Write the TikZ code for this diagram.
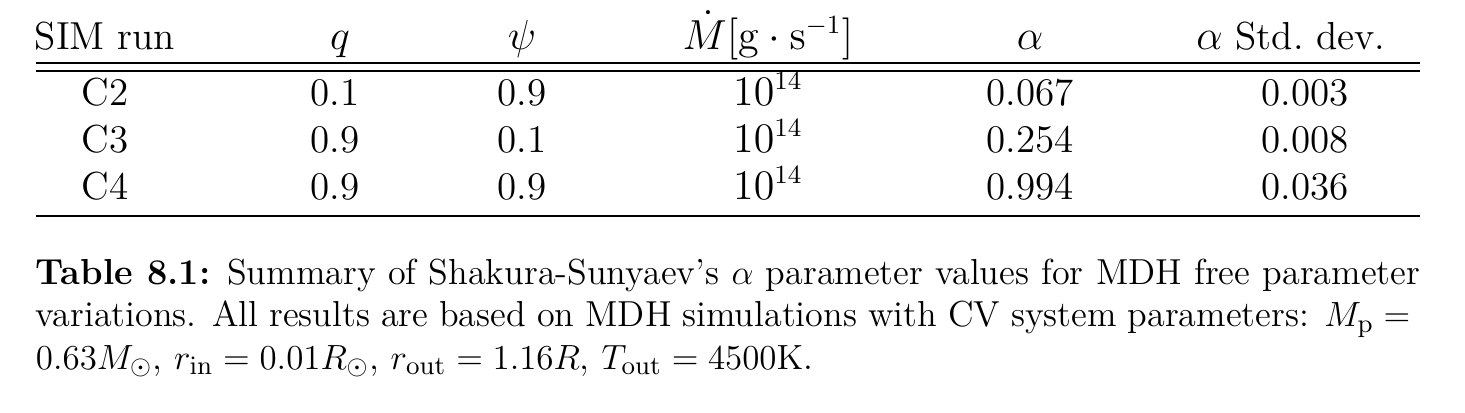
\documentclass[tikz,border=0pt]{standalone}
\begin{document}
\begin{tikzpicture}[x=0.3429pt,y=-0.3429pt,
  every node/.style={inner sep=0pt, outer sep=0pt},
  cell/.style={anchor=base, font=\fontsize{13.4}{16}\selectfont},
  captext/.style={font=\fontsize{12.4}{14.5}\selectfont},
  tabrule/.style={line width=0.5pt}]
\useasboundingbox (0,0) rectangle (1465,412);
% header
\node[cell] (h1) at (105,49) {SIM run};
\node[cell] (h2) at (340,49) {$q$};
\node[cell] (h3) at (522,49) {$\psi$};
\node[cell] (h4) at (768,49) {$\dot M[\mathrm{g}\cdot\mathrm{s}^{-1}]$};
\node[cell] (h5) at (1030,49) {$\alpha$};
\node[cell] (h6) at (1291,49) {$\alpha$ Std.\ dev.};
% rules
\coordinate (r1l) at (36,63);  \coordinate (r1r) at (1420,63);
\coordinate (r2l) at (36,71);  \coordinate (r2r) at (1420,71);
\coordinate (r3l) at (36,216); \coordinate (r3r) at (1420,216);
\draw[tabrule] (r1l) -- (r1r);
\draw[tabrule] (r2l) -- (r2r);
\draw[tabrule] (r3l) -- (r3r);
% rows
\node[cell] (a1) at (105,105) {C2};
\node[cell] (a2) at (335,105) {0.1};
\node[cell] (a3) at (522,105) {0.9};
\node[cell] (a4) at (768,105) {$10^{14}$};
\node[cell] (a5) at (1030,105) {0.067};
\node[cell] (a6) at (1305,105) {0.003};
\node[cell] (b1) at (105,152) {C3};
\node[cell] (b2) at (335,152) {0.9};
\node[cell] (b3) at (522,152) {0.1};
\node[cell] (b4) at (768,152) {$10^{14}$};
\node[cell] (b5) at (1030,152) {0.254};
\node[cell] (b6) at (1305,152) {0.008};
\node[cell] (c1) at (105,199) {C4};
\node[cell] (c2) at (335,199) {0.9};
\node[cell] (c3) at (522,199) {0.9};
\node[cell] (c4) at (768,199) {$10^{14}$};
\node[cell] (c5) at (1030,199) {0.994};
\node[cell] (c6) at (1305,199) {0.036};
% caption
\node[captext, anchor=north west, text width=474.6pt, align=justify] (cap) at (36,259)
 {\textbf{Table 8.1:} Summary of Shakura-Sunyaev's $\alpha$ parameter values for MDH free parameter\linebreak
 variations. All results are based on MDH simulations with CV system parameters: $M_{\mathrm{p}}={}$\linebreak
 $0.63M_{\odot}$, $r_{\mathrm{in}}=0.01R_{\odot}$, $r_{\mathrm{out}}=1.16R$, $T_{\mathrm{out}}=4500\mathrm{K}$.\par};
\end{tikzpicture}
\end{document}
